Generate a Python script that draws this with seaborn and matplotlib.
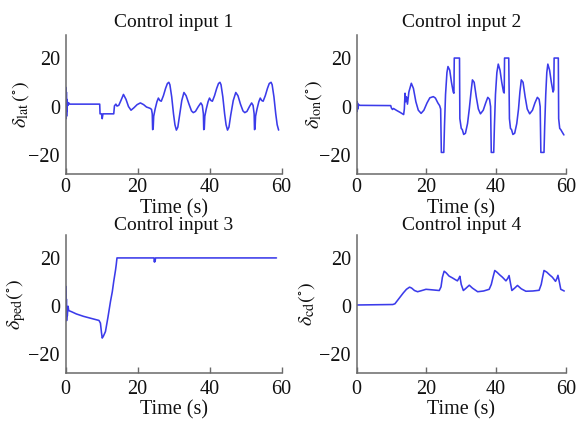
import matplotlib
matplotlib.use("Agg")
import matplotlib.pyplot as plt
import seaborn as sns
import pandas as pd

# ---------------- data ----------------
titles = ["Control input 1", "Control input 2", "Control input 3", "Control input 4"]
ylabels = [r"$\delta_{\mathrm{lat}}\,(^{\circ})$", r"$\delta_{\mathrm{lon}}(^{\circ})$",
           r"$\delta_{\mathrm{ped}}(^{\circ})$", r"$\delta_{\mathrm{cd}}(^{\circ})$"]
xlabel = "Time (s)"
xticks = [0, 20, 40, 60]
yticks = [-20, 0, 20]

t_lat = [0, 0.05, 0.1, 0.15, 0.2, 0.25, 0.3, 0.35, 0.4, 0.5, 0.7, 0.9, 1.2, 9.5, 9.6, 10.0, 10.2, 10.4,
         13.4, 13.6, 14.0, 14.3, 14.8, 15.4, 16.1, 16.8, 17.5, 18.2, 19.0, 19.9, 20.8, 21.7, 22.5, 23.1,
         23.6, 23.9, 24.1, 24.2, 24.35, 24.5, 24.9, 25.4, 25.8, 26.2, 26.6, 27.2, 27.8, 28.3, 28.7, 29.0,
         29.5, 30.0, 30.4, 30.8, 31.2, 31.7, 32.3, 32.9, 33.5, 34.3, 35.0, 35.5, 36.1, 36.9, 37.6, 38.0,
         38.3, 38.4, 38.55, 38.7, 39.1, 39.6, 40.0, 40.4, 40.8, 41.4, 42.0, 42.5, 42.9, 43.2,
         43.7, 44.2, 44.6, 45.0, 45.4, 45.9, 46.6, 47.3, 47.9, 48.6, 49.3, 49.8, 50.4, 51.1, 51.7, 52.1,
         52.4, 52.5, 52.65, 52.8, 53.2, 53.7, 54.1, 54.5, 54.9, 55.5, 56.1, 56.6, 57.1, 57.4,
         57.9, 58.4, 58.8, 59.2]
v_lat = [0, 8, -4, 7, -5, 6, -4, 3, -2, 2, 0.5, 1.5, 1, 1, -3, -3, -5, -3,
         -3, 0.3, 1, 0.2, 0.5, 2.5, 5, 3, 0, -1.5, -0.5, 0.8, 1.5, 0.8, -0.2, -0.5,
         -0.8, -1.2, -3, -9.5, -9.2, -4, -1, 2, 3.5, 2.5, 2.2, 4.5, 7.5, 9.5, 10, 9,
         4, -3, -7.5, -9.7, -8.5, -3.5, 2.5, 5.8, 4.5, 1, -1.8, -2.5, -2, 0, 1.5, 0.5,
         -3, -9.5, -9.2, -4, -1, 2, 3.5, 2.5, 2.2, 4.5, 7.5, 9.5, 10, 9,
         4, -3, -7.5, -9.7, -8.5, -3.5, 2.5, 5.8, 4.5, 1, -1.8, -2.5, -2, 0, 1.5, 0.5,
         -3, -9.5, -9.2, -4, -1, 2, 3.5, 2.5, 2.2, 4.5, 7.5, 9.5, 10, 9,
         4, -3, -7.5, -9.7]

t_lon = [0, 0.05, 0.1, 0.15, 0.2, 0.3, 0.4, 0.6, 1.0, 9.8, 10.0, 10.3, 10.6, 11.5, 12.5, 13.5, 13.7,
         13.9, 14.1, 14.3, 14.6, 15.0, 15.7, 16.3, 17.0, 17.7, 18.5, 19.3, 20.2, 21.0, 22.0, 22.6, 23.3,
         23.8, 24.1, 24.3, 25.0, 25.2, 25.5, 25.9, 26.2, 26.7, 27.2, 27.7, 27.9, 28.0, 29.5, 29.6, 30.0,
         30.3, 30.7, 31.2, 31.8, 32.3, 32.8, 33.2, 33.7, 34.3, 34.9, 35.5, 36.3, 37.0, 37.6, 38.1, 38.4,
         38.6, 39.3, 39.5, 39.8, 40.2, 40.6, 41.1, 41.6, 42.1, 42.3, 42.4, 43.6, 43.8, 44.1,
         44.4, 44.8, 45.3, 45.9, 46.4, 46.8, 47.2, 47.7, 48.3, 48.9, 49.6, 50.4, 51.1, 51.8, 52.3, 52.6,
         52.8, 53.7, 53.9, 54.2, 54.5, 54.8, 55.3, 55.8, 56.3, 56.5, 56.6, 57.8, 57.9, 58.2,
         58.5, 58.9, 59.4]
v_lon = [0, 2, -2, 2, -2, 1.5, -1, 0.8, 0.5, 0.4, -0.6, -1.2, -0.8, -1.6, -2.4, -3.3, -1,
         5.5, 2, 4, 1, 6, 9.6, 7.5, 2, -1.5, -2.8, -1.5, 1.5, 3.6, 4.1, 3.5, 1.5,
         0.4, -1, -18.9, -18.9, -8, 5, 14, 16.5, 15, 10, 6, 5.5, 20, 20, -5, -9,
         -9.5, -11.5, -11, -7, -1, 6, 11, 10, 4, -1, -3.0, -1.5, 1.5, 3.8, 3.0, 0,
         -18.9, -18.9, -8, 5, 14, 17.5, 15, 10, 6, 5.6, 20, 20, -5, -9,
         -9.5, -11.5, -11, -7, -1, 6, 11, 10, 4, -1, -3.0, -1.5, 1.5, 3.8, 3.0, 0,
         -18.9, -18.9, -8, 5, 14, 17.5, 15, 10, 6, 6.9, 20, 20, -5, -9,
         -9.5, -10.5, -11.7]

t_ped = [0, 0.05, 0.1, 0.15, 0.2, 0.25, 0.3, 0.4, 0.5, 0.7, 0.9, 1.2, 1.7, 3.0, 5.0, 7.0, 9.3, 9.7,
         10.0, 10.2, 10.5, 10.8, 11.1, 11.8, 12.5, 13.0, 13.4, 13.9, 14.1, 14.3,
         24.6, 24.7, 24.8, 24.9, 25.0, 58.6]
v_ped = [0, 8.3, -5.5, 6, -5, 3, -6, -1, -4, 0, -1.8, -2.0, -2.3, -3.2, -4.2, -5.0, -5.9, -7,
         -11, -13.2, -12.5, -11.5, -10.5, -4.5, 2, 6, 10.3, 15, 17.3, 20,
         20, 18.3, 19.5, 18.5, 20, 20]

t_cd = [0, 10.4, 11.0, 11.8, 12.6, 13.4, 14.3, 15.2, 15.8, 16.6, 17.5, 18.5, 19.9, 21.5, 23.7, 24.2, 24.6,
        25.1, 25.7, 26.5, 27.5, 28.3, 28.9, 29.3, 29.6, 30.0, 30.6, 31.4, 32.3, 33.2, 34.7, 36.4, 38.0,
        38.6, 39.1, 39.6, 40.3, 41.0, 41.8, 42.8, 43.3, 43.7, 44.1, 44.5, 45.3, 46.1, 47.2, 48.5, 50.5,
        52.3, 52.9, 53.3, 53.7, 54.5, 55.3, 56.1, 57.0, 57.4, 57.7, 58.1, 58.5, 59.5]
v_cd = [0.5, 0.7, 1, 2.5, 4, 5.5, 7, 7.9, 7.5, 6.5, 6.0, 6.4, 7.0, 6.8, 6.5, 8, 12,
        14.5, 13.8, 12.5, 11.7, 11, 10.5, 11.5, 12.4, 9, 6.5, 7.5, 8.7, 7.5, 6.0, 6.3, 7.0,
        9, 12, 14.8, 14, 13, 12.0, 10.5, 11.5, 12.7, 9.5, 6.5, 7.5, 8.6, 7.2, 6.2, 6.3,
        6.6, 9, 12, 14.8, 14.1, 13, 12, 10.3, 11.5, 12.8, 10, 7.0, 6.3]

series = [(t_lat, v_lat), (t_lon, v_lon), (t_ped, v_ped), (t_cd, v_cd)]

# ---------------- styling ----------------
sns.set_theme(style="ticks")
plt.rcParams["font.family"] = ["Liberation Serif", "DejaVu Serif"]
plt.rcParams["mathtext.fontset"] = "stix"

W, H = 582, 421
fig = plt.figure(figsize=(W / 100, H / 100), dpi=100)
fig.patch.set_facecolor("white")

# axes boxes in pixels: (left, right, top, bottom)
boxes = [(65.5, 281.5, 35, 174), (356.5, 566, 35, 174),
         (65.5, 281.5, 235, 373.3), (356.5, 566, 235, 373.3)]
title_pads = [5.5, 5.5, 3.5, 3.5]
xtick_pads = [3.0, 3.0, 4.5, 4.5]
xlabel_pads = [1.5, 1.5, 1.5, 1.5]
ylabel_x = [-0.16, -0.155, -0.175, -0.19]
line_color = "#3b3bea"
spine_color = "#6a6a6a"
text_color = "#111111"

for i, (l, r, t, b) in enumerate(boxes):
    ax = fig.add_axes([l / W, 1 - b / H, (r - l) / W, (b - t) / H])
    tt, vv = series[i]
    df = pd.DataFrame({"t": tt, "v": vv})
    sns.lineplot(data=df, x="t", y="v", ax=ax, estimator=None, sort=False,
                 color=line_color, linewidth=1.15)
    ax.set_xlim(0, 60)
    ax.set_ylim(-27.8, 29.5)
    ax.set_xticks(xticks)
    ax.set_yticks(yticks)
    ax.set_yticklabels(["\u221220", "0", "20"])
    for s in ["top", "right"]:
        ax.spines[s].set_visible(False)
    for s in ["left", "bottom"]:
        ax.spines[s].set_color(spine_color)
        ax.spines[s].set_linewidth(1.1)
    ax.tick_params(axis="x", direction="in", length=4.5, width=1.0, color=spine_color,
                   labelsize=14.5, pad=xtick_pads[i], labelcolor=text_color)
    ax.tick_params(axis="y", direction="in", length=0, labelsize=14.5, pad=4,
                   labelcolor=text_color)
    ax.set_title(titles[i], fontsize=14, pad=title_pads[i], color=text_color)
    ax.set_xlabel(xlabel, fontsize=14.5, labelpad=xlabel_pads[i], color=text_color)
    ax.set_ylabel(ylabels[i], fontsize=14.5, color=text_color)
    ax.yaxis.set_label_coords(ylabel_x[i], 0.5)
    ax.set_facecolor("white")

fig.savefig("out.png", dpi=100, facecolor="white")
